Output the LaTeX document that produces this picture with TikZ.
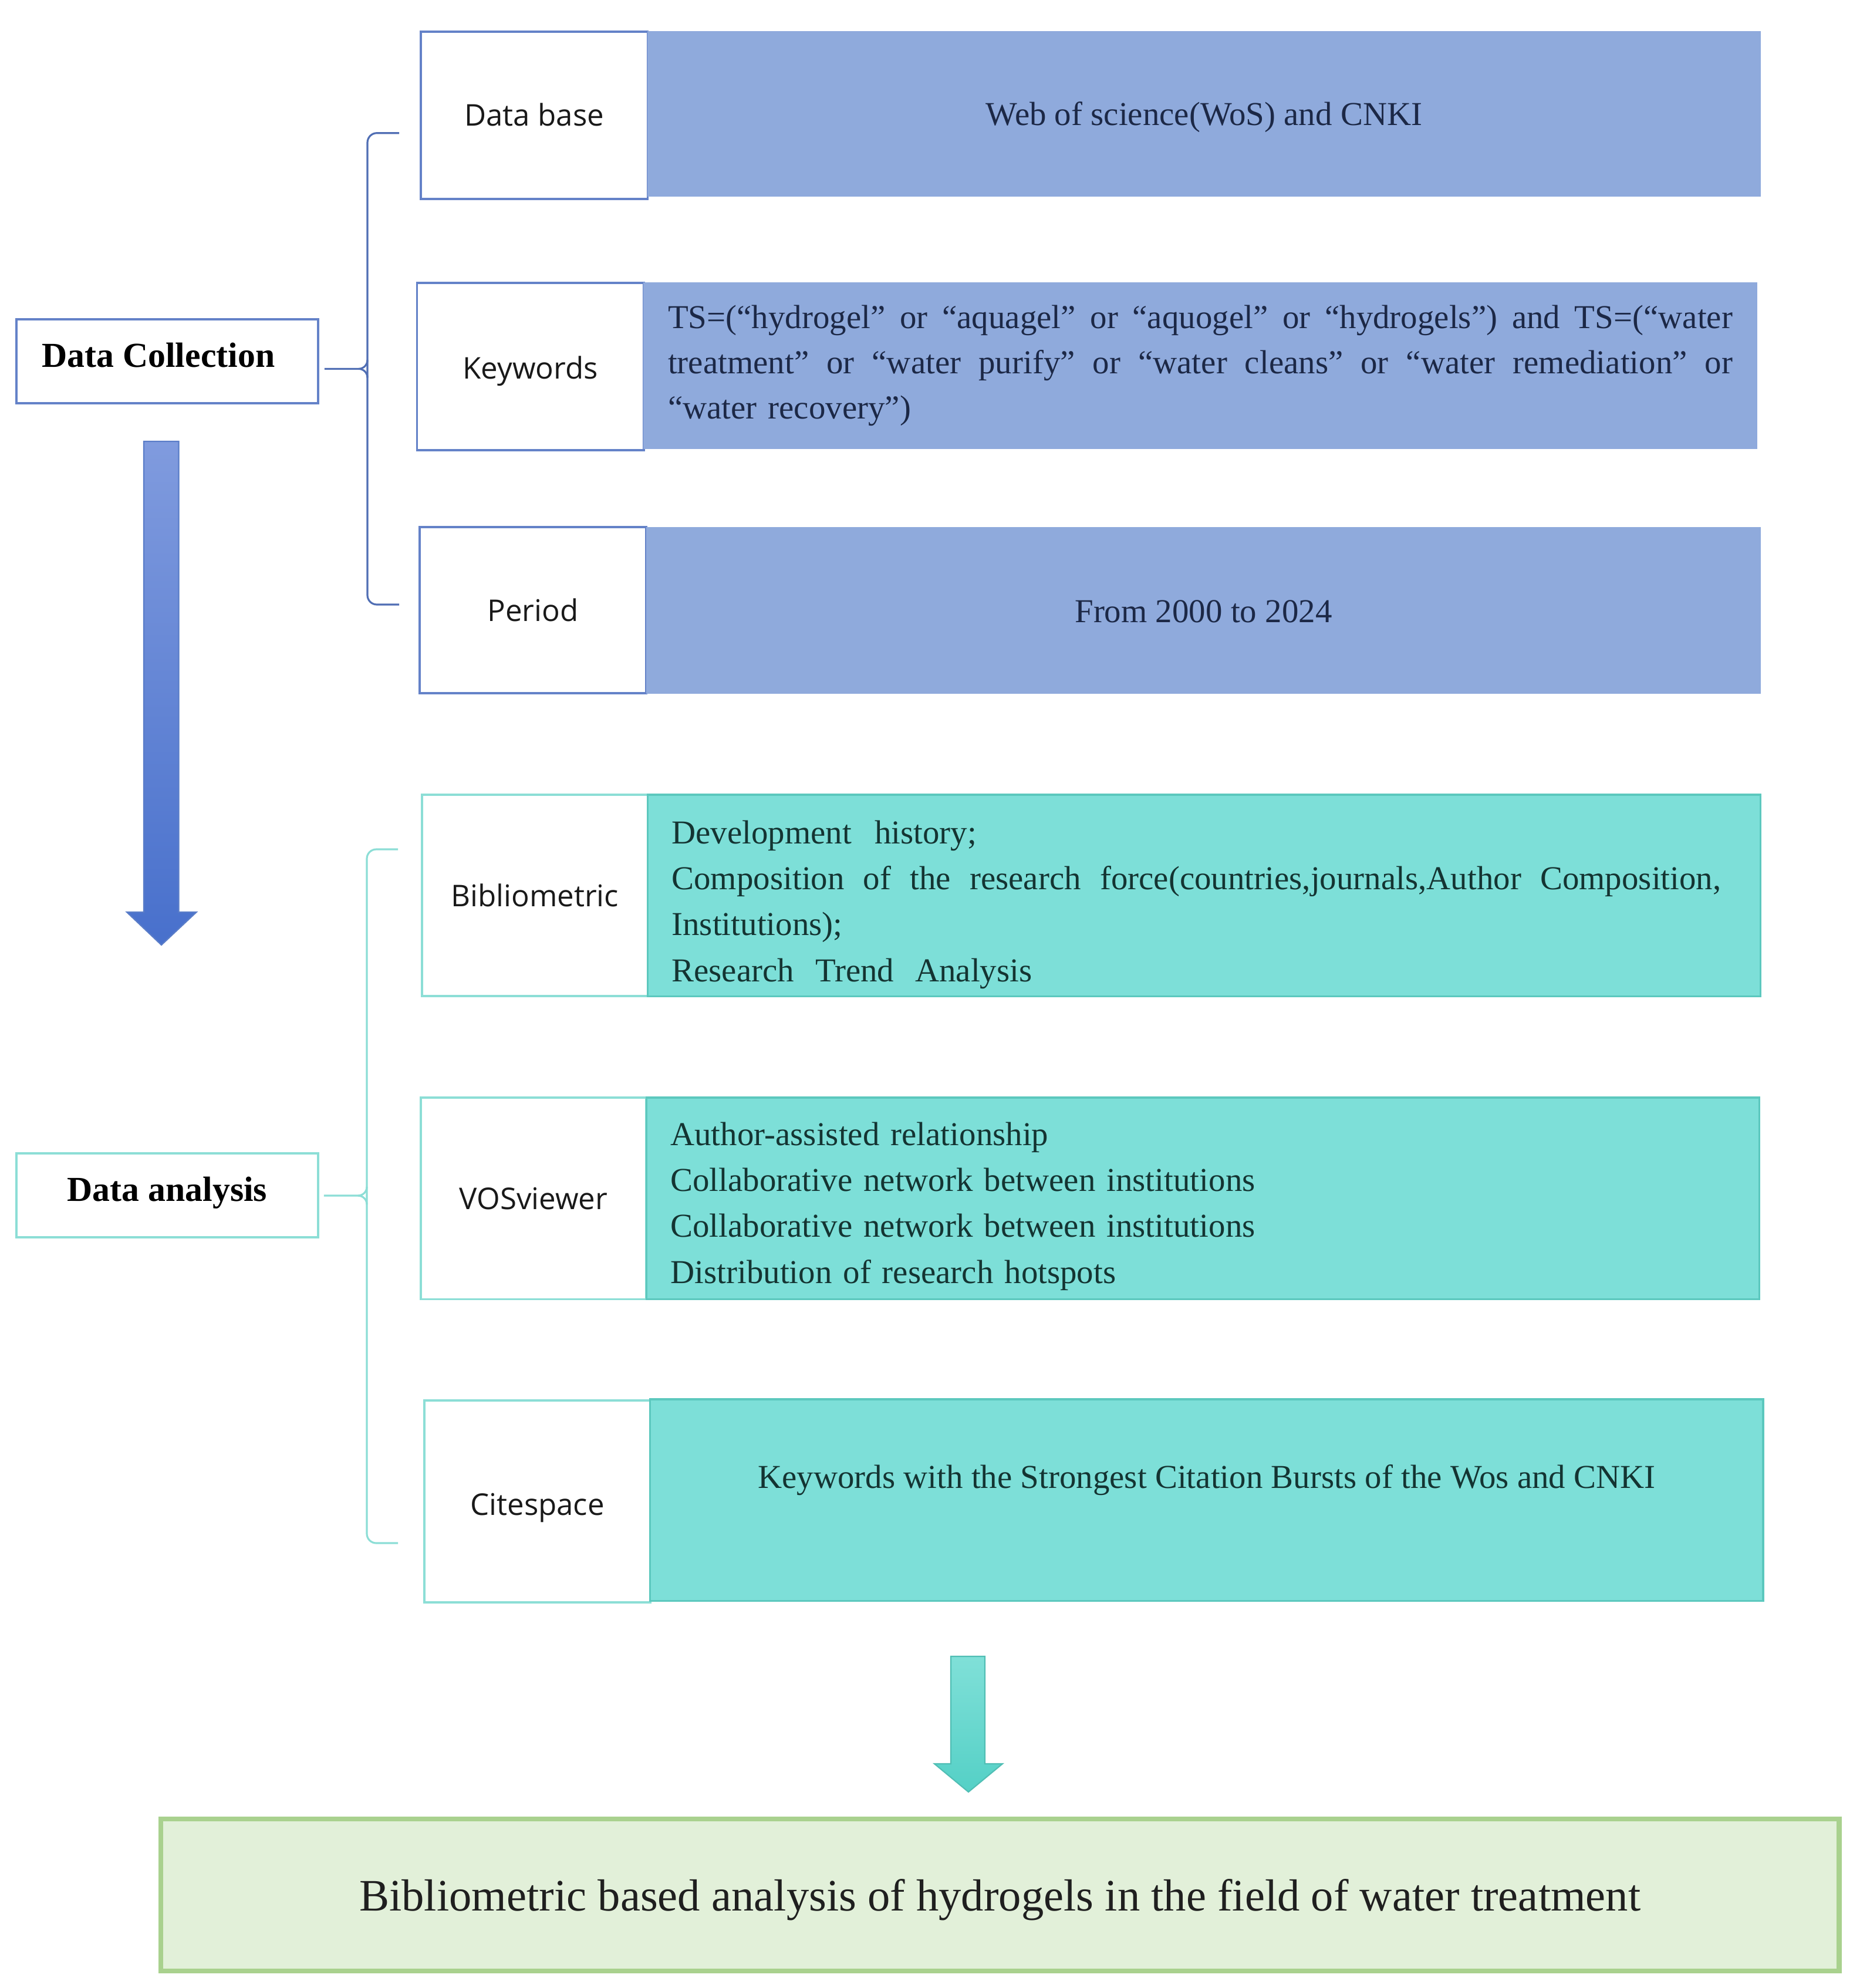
\documentclass[tikz,border=0pt]{standalone}
\usepackage{fontspec}
\setmainfont{Liberation Serif}
\newfontfamily\labelfont{Open Sans}
\usetikzlibrary{calc}

\definecolor{bluefill}{RGB}{143,170,220}
\definecolor{blueline}{RGB}{100,130,200}
\definecolor{bracecol}{RGB}{80,110,180}
\definecolor{bluetext}{RGB}{28,40,70}
\definecolor{tealfill}{RGB}{125,223,216}
\definecolor{tealline}{RGB}{92,200,190}
\definecolor{teallight}{RGB}{140,222,214}
\definecolor{tealtext}{RGB}{20,52,50}
\definecolor{greenfill}{RGB}{226,240,217}
\definecolor{greenline}{RGB}{169,209,142}
\definecolor{arrowtop}{RGB}{128,155,222}
\definecolor{arrowbot}{RGB}{72,112,204}
\definecolor{arrowline}{RGB}{90,125,200}
\definecolor{tarrowtop}{RGB}{128,224,216}
\definecolor{tarrowbot}{RGB}{84,208,198}
\definecolor{tarrowline}{RGB}{80,190,180}

\newcommand{\jline}[2]{\makebox[#1][s]{\spaceskip=0.25em plus 2em\relax #2}}

\begin{document}
\begin{tikzpicture}[
  lbl/.style={draw, fill=white, line width=1.1pt, inner sep=0pt,
    text height=0.366cm, text depth=0cm,
    font=\labelfont\fontsize{14.5}{17}\selectfont, text=black!90},
  lblblue/.style={lbl, draw=blueline},
  lblteal/.style={lbl, draw=teallight},
  bluebox/.style={fill=bluefill, draw=bluefill, inner sep=0pt},
  tealbox/.style={fill=tealfill, draw=tealline, line width=0.9pt, inner sep=0pt},
  bluetxt/.style={text=bluetext, inner sep=0pt, font=\fontsize{16.2}{22}\selectfont},
  tealtxt/.style={text=tealtext, inner sep=0pt, font=\fontsize{16.2}{22.3}\selectfont},
  mainbox/.style={draw, fill=white, line width=1.1pt, inner sep=0pt,
    text height=0.42cm, text depth=0cm,
    font=\bfseries\fontsize{17}{20}\selectfont, text=black},
  brace/.style={line width=0.9pt},
  bigarrow/.style={line width=0.6pt},
]
\useasboundingbox (0,0) rectangle (31.68,-33.87);
\fill[white] (0,0) rectangle (31.68,-33.87);

% ---------- Data collection block ----------
\node[lblblue, minimum width=3.865cm, minimum height=2.85cm] (dbl) at (9.1025,-1.965) {Data base};
\node[bluebox, minimum width=18.96cm, minimum height=2.81cm] (dbc) at (20.515,-1.94) {};
\node[bluetxt] (dbt) at (20.515,-2.00) {Web of science(WoS) and CNKI};

\node[lblblue, minimum width=3.865cm, minimum height=2.85cm] (kwl) at (9.0375,-6.241) {\raisebox{-0.03cm}{Keywords}};
\node[bluebox, minimum width=18.96cm, minimum height=2.83cm] (kwc) at (20.45,-6.23) {};
\node[bluetxt, text width=18.14cm, align=left] (kwt) at (20.45,-6.23)
  {\jline{18.14cm}{TS=(“hydrogel” or “aquagel” or “aquogel” or “hydrogels”) and TS=(“water}\\
   \jline{18.14cm}{treatment” or “water purify” or “water cleans” or “water remediation” or}\\
   “water recovery”)};

\node[lblblue, minimum width=3.865cm, minimum height=2.828cm] (pdl) at (9.08,-10.398) {Period};
\node[bluebox, minimum width=18.98cm, minimum height=2.83cm] (pdc) at (20.504,-10.398) {};
\node[bluetxt] (pdt) at (20.504,-10.42) {From 2000 to 2024};

\node[mainbox, draw=blueline, minimum width=5.14cm, minimum height=1.427cm] (dc) at (2.85,-6.1535)
  {\hspace*{-0.3cm}\raisebox{0.11cm}{Data Collection}};

% brace for data collection
\coordinate (b1) at (6.26,-6.284);
\draw[brace, bracecol] (6.80,-2.267) -- (6.42,-2.267) to[out=180,in=90] (6.26,-2.43)
  -- (6.26,-10.14) to[out=-90,in=180] (6.42,-10.30) -- (6.80,-10.30);
\draw[brace, bracecol] ($(dc.east |- b1)+(0.09,0)$) -- ($(b1)+(-0.15,0)$)
  to[out=0,in=-90] ($(b1)+(0,0.15)$);
\draw[brace, bracecol] ($(b1)+(-0.15,0)$) to[out=0,in=90] ($(b1)+(0,-0.15)$);

% big blue arrow
\shade[top color=arrowtop, bottom color=arrowbot, draw=arrowline, bigarrow]
  (2.45,-7.52) -- (3.045,-7.52) -- (3.045,-15.54) -- (3.347,-15.54) -- (2.75,-16.10)
  -- (2.16,-15.54) -- (2.45,-15.54) -- cycle;

% ---------- Data analysis block ----------
\node[lblteal, minimum width=3.845cm, minimum height=3.434cm] (bil) at (9.1125,-15.257) {Bibliometric};
\node[tealbox, minimum width=18.96cm, minimum height=3.434cm] (bic) at (20.515,-15.257) {};
\node[tealtxt, text width=18.14cm, align=left] (bit) at (20.515,-15.41)
  {Development\hspace{0.35em} history;\\
   \jline{17.88cm}{Composition of the research force(countries,journals,Author Composition,}\\
   Institutions);\\
   Research\hspace{0.3em} Trend\hspace{0.3em} Analysis};

\node[lblteal, minimum width=3.843cm, minimum height=3.435cm] (vol) at (9.09,-20.4175) {VOSviewer};
\node[tealbox, minimum width=18.961cm, minimum height=3.435cm] (voc) at (20.4935,-20.4175) {};
\node[tealtxt, text width=18.14cm, align=left] (vot) at (20.4935,-20.55)
  {Author-assisted relationship\\
   Collaborative network between institutions\\
   Collaborative network between institutions\\
   Distribution of research hotspots};

\node[lblteal, minimum width=3.844cm, minimum height=3.436cm] (csl) at (9.156,-25.578) {\raisebox{-0.05cm}{Citespace}};
\node[tealbox, minimum width=18.961cm, minimum height=3.434cm] (csc) at (20.5585,-25.557) {};
\node[tealtxt] (cst) at (20.56,-25.22)
  {Keywords with the Strongest Citation Bursts of the Wos and CNKI};

\node[mainbox, draw=teallight, minimum width=5.14cm, minimum height=1.426cm] (da) at (2.85,-20.363)
  {\raisebox{0.11cm}{Data analysis}};

% brace for data analysis
\coordinate (b2) at (6.25,-20.37);
\draw[brace, teallight] (6.78,-14.47) -- (6.41,-14.47) to[out=180,in=90] (6.25,-14.63)
  -- (6.25,-26.13) to[out=-90,in=180] (6.41,-26.29) -- (6.78,-26.29);
\draw[brace, teallight] ($(da.east |- b2)+(0.08,0)$) -- ($(b2)+(-0.15,0)$)
  to[out=0,in=-90] ($(b2)+(0,0.15)$);
\draw[brace, teallight] ($(b2)+(-0.15,0)$) to[out=0,in=90] ($(b2)+(0,-0.15)$);

% teal arrow
\shade[top color=tarrowtop, bottom color=tarrowbot, draw=tarrowline, bigarrow]
  (16.20,-28.22) -- (16.78,-28.22) -- (16.78,-30.05) -- (17.08,-30.05) -- (16.50,-30.53)
  -- (15.92,-30.05) -- (16.20,-30.05) -- cycle;

% ---------- result ----------
\node[draw=greenline, fill=greenfill, line width=2.4pt, inner sep=0pt,
  minimum width=28.594cm, minimum height=2.59cm] (res) at (17.037,-32.285) {};
\node[text=black!88, font=\fontsize{21.8}{26}\selectfont, inner sep=0pt] (rest) at (17.037,-32.37)
  {Bibliometric based analysis of hydrogels in the field of water treatment};
\end{tikzpicture}
\end{document}
